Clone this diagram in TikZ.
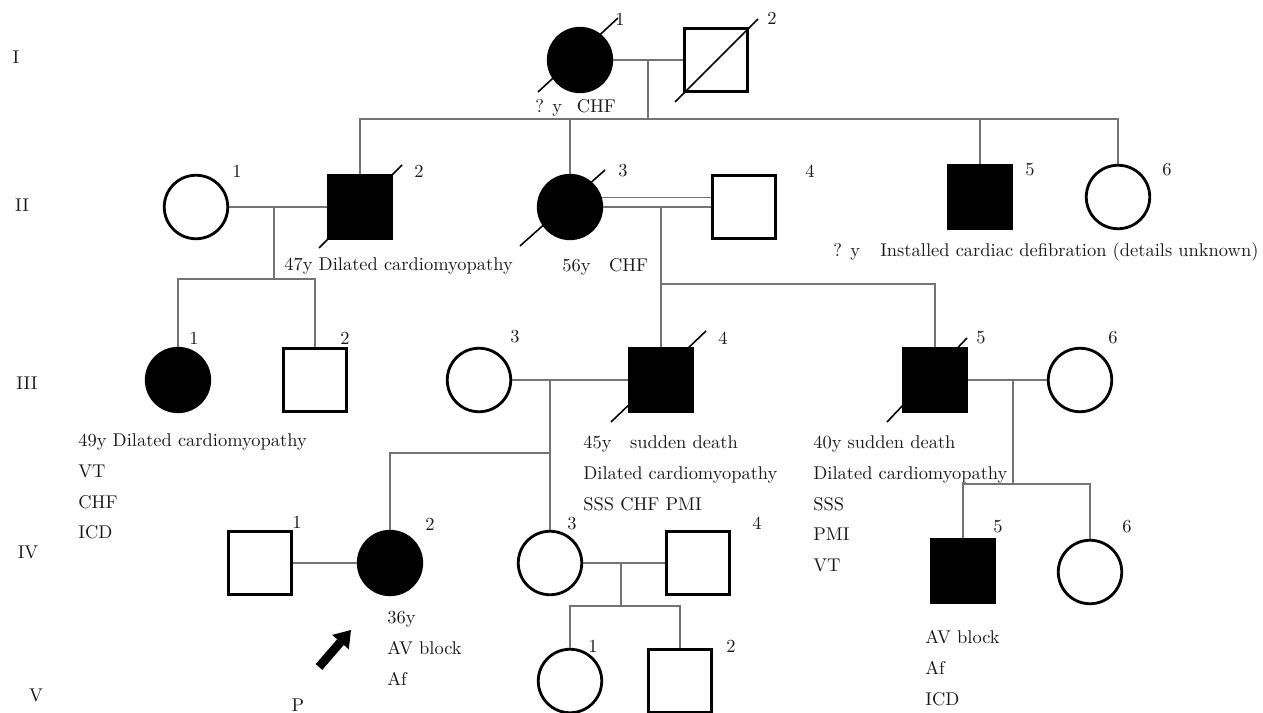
\documentclass[tikz,border=0pt]{standalone}
\begin{document}
\begin{tikzpicture}[scale=0.2,
  every node/.style={inner sep=0pt, font=\fontsize{10.5}{17.6}\selectfont, text=black!90},
  male/.style={draw=black, rectangle, line width=1.6pt, minimum size=1.27cm},
  female/.style={draw=black, circle, line width=1.6pt, minimum size=1.27cm},
  ill/.style={fill=black},
  rel/.style={black!55, line width=0.9pt},
  dead/.style={black, line width=0.9pt},
  txt/.style={anchor=base west},
  notes/.style={anchor=north west, align=left}]
\useasboundingbox (0,0) rectangle (126.3,-71.3);
% generation labels
\node (gI) at (1.6,-5.7) {I};
\node (gII) at (2.2,-20.5) {II};
\node (gIII) at (2.7,-38.3) {III};
\node (gIV) at (2.8,-55.2) {IV};
\node (gV) at (3.6,-69.5) {V};
% generation I
\node [female, ill] (I1) at (58.0,-6.0) {};
\node [male] (I2) at (71.6,-6.0) {};
\draw [dead] (I1) ++(-4.2,-3.2) -- ++(8.0,7.4);
\draw [dead] (I2) ++(-4.1,-4.2) -- ++(8.3,8.3);
\node (I1n) at (62.0,-1.9) {1};
\node (I2n) at (77.2,-1.8) {2};
\node [txt] (I1t) at (53.5,-11.3) {? y\hspace{0.8em}CHF};
% generation II
\node [female] (II1) at (19.6,-20.7) {};
\node [male, ill] (II2) at (36.0,-20.7) {};
\node [female, ill] (II3) at (57.0,-20.7) {};
\node [male] (II4) at (74.4,-20.7) {};
\node [male, ill] (II5) at (98.0,-19.7) {};
\node [female] (II6) at (111.8,-19.7) {};
\draw [dead] (II2) ++(-4.1,-4.1) -- ++(8.3,8.3);
\draw [dead] (II3) ++(-5.0,-3.9) -- ++(8.5,7.6);
\node (II1n) at (23.7,-17.1) {1};
\node (II2n) at (41.9,-17.1) {2};
\node (II3n) at (62.3,-17.1) {3};
\node (II4n) at (81.0,-17.1) {4};
\node (II5n) at (103.0,-17.0) {5};
\node (II6n) at (116.7,-17.0) {6};
\node [txt] (II2t) at (28.4,-27.1) {47y Dilated cardiomyopathy};
\node [txt] (II3t) at (56.2,-27.2) {56y\hspace{1em}CHF};
\node [txt] (II5t) at (83.3,-25.7) {? y\hspace{1.1em}Installed cardiac defibration (details unknown)};
\coordinate (I12) at (64.8,-6.0);
\coordinate (Isib) at (64.8,-11.9);
\draw [rel] (I1) -- (I2);
\draw [rel] (I12) -- (Isib);
\draw [rel] (II2.north) |- (II6.north |- Isib) -- (II6.north);
\draw [rel] (II3.north) -- (II3.north |- Isib);
\draw [rel] (II5.north) -- (II5.north |- Isib);
% generation III
\node [female, ill] (III1) at (17.8,-38.0) {};
\node [male] (III2) at (31.5,-38.0) {};
\node [female] (III3) at (47.9,-38.0) {};
\node [male, ill] (III4) at (66.1,-38.0) {};
\node [male, ill] (III5) at (93.5,-38.0) {};
\node [female] (III6) at (108.0,-38.0) {};
\draw [dead] (III4) ++(-5.0,-4.2) -- ++(9.5,9.1);
\draw [dead] (III5) ++(-4.8,-4.2) -- ++(8.0,8.4);
\node (III1n) at (19.4,-33.8) {1};
\node (III2n) at (34.5,-33.8) {2};
\node (III3n) at (51.5,-33.7) {3};
\node (III4n) at (72.3,-33.8) {4};
\node (III5n) at (98.1,-33.8) {5};
\node (III6n) at (111.3,-33.8) {6};
\node [notes] (III1t) at (7.8,-43.3) {49y Dilated cardiomyopathy\\VT\\CHF\\ICD};
\node [notes] (III4t) at (58.3,-43.5) {45y\hspace{1em}sudden death\\Dilated cardiomyopathy\\SSS CHF PMI};
\node [notes] (III5t) at (81.3,-43.5) {40y sudden death\\Dilated cardiomyopathy\\SSS\\PMI\\VT};
\draw [rel] (II1) -- (II2);
\coordinate (II12) at (27.4,-20.7);
\coordinate (IIsib) at (27.4,-27.9);
\draw [rel] (II12) -- (IIsib);
\draw [rel] (III1.north) |- (III2.north |- IIsib) -- (III2.north);
\draw [rel] (II3) -- (II4);
\draw [rel] (II3.17) -- (II3.17 -| II4.west);
\draw [rel] (II4.west -| III4.north) -- (III4.north);
\coordinate (II34s) at (66.1,-28.4);
\draw [rel] (II34s) -| (III5.north);
% generation IV
\node [male] (IV1) at (26.0,-56.3) {};
\node [female, ill] (IV2) at (39.0,-56.3) {};
\node [female] (IV3) at (55.0,-56.3) {};
\node [male] (IV4) at (69.8,-56.3) {};
\node [male, ill] (IV5) at (96.3,-57.1) {};
\node [female] (IV6) at (109.0,-57.2) {};
\node (IV1n) at (29.7,-52.2) {1};
\node (IV2n) at (43.0,-52.4) {2};
\node (IV3n) at (57.2,-52.4) {3};
\node (IV4n) at (75.7,-52.3) {4};
\node (IV5n) at (99.8,-52.7) {5};
\node (IV6n) at (112.7,-52.7) {6};
\node [notes] (IV2t) at (38.7,-61.1) {36y\\AV block\\Af};
\node [notes] (IV5t) at (92.5,-63.0) {AV block\\Af\\ICD};
\draw [rel] (III3) -- (III4);
\coordinate (III34b) at (55.0,-45.3);
\draw [rel] (IV3.north |- III3) -- (IV3.north);
\draw [rel] (III34b) -| (IV2.north);
\draw [rel] (III5) -- (III6);
\coordinate (III56) at (101.3,-38.0);
\coordinate (III56s) at (101.3,-48.4);
\draw [rel] (III56) -- (III56s);
\draw [rel] (IV5.north) |- (IV6.north |- III56s) -- (IV6.north);
% generation V
\node [female] (V1) at (57.0,-68.1) {};
\node [male] (V2) at (68.0,-68.1) {};
\node (V1n) at (59.3,-64.6) {1};
\node (V2n) at (73.1,-64.6) {2};
\draw [rel] (IV1) -- (IV2);
\draw [rel] (IV3) -- (IV4);
\coordinate (IV34) at (62.1,-56.3);
\coordinate (IVsib) at (62.1,-60.6);
\draw [rel] (IV34) -- (IVsib);
\draw [rel] (V1.north) |- (V2.north |- IVsib) -- (V2.north);
% proband
\coordinate (Ptail) at (31.9,-66.7);
\coordinate (Pbase) at (34.05,-64.21);
\draw [black, line width=5pt] (Ptail) -- (Pbase);
\fill [black] (35.1,-63.0) -- (34.88,-64.93) -- (33.22,-63.49) -- cycle;
\node (P) at (29.8,-70.5) {P};
\end{tikzpicture}
\end{document}
